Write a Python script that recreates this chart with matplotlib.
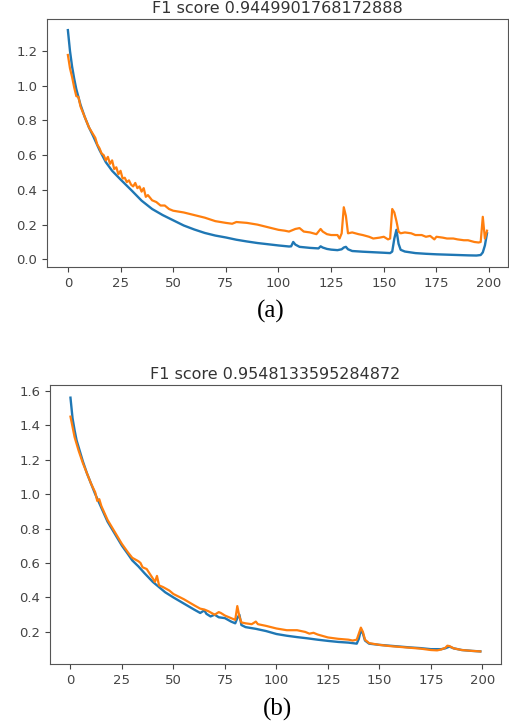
import matplotlib
matplotlib.use("Agg")
import matplotlib.pyplot as plt

# (a) 学習曲線 (epoch, loss)
ep_a_blue = [0, 1, 2, 3, 4, 6, 8, 10, 12, 15, 18, 21, 25, 30, 35, 40, 45, 50, 55, 60,
             65, 70, 75, 80, 85, 90, 95, 100, 105, 106, 107, 108, 110, 115, 119, 120,
             121, 123, 125, 128, 130, 131, 132, 133, 135, 140, 145, 150, 153, 154, 155,
             156, 157, 158, 160, 165, 170, 175, 180, 185, 190, 194, 196, 197, 198, 199]
loss_a_blue = [1.32, 1.20, 1.11, 1.04, 0.98, 0.89, 0.82, 0.76, 0.71, 0.63, 0.56, 0.51,
               0.46, 0.40, 0.338, 0.29, 0.255, 0.225, 0.195, 0.172, 0.152, 0.137, 0.126,
               0.113, 0.103, 0.094, 0.087, 0.080, 0.074, 0.075, 0.100, 0.085, 0.072,
               0.066, 0.063, 0.075, 0.068, 0.060, 0.056, 0.053, 0.058, 0.068, 0.072,
               0.058, 0.048, 0.044, 0.041, 0.038, 0.036, 0.045, 0.120, 0.170, 0.090,
               0.055, 0.045, 0.036, 0.032, 0.029, 0.027, 0.025, 0.023, 0.022, 0.025,
               0.040, 0.080, 0.150]

ep_a_orange = [0, 1, 2, 3, 4, 5, 6, 8, 10, 12, 13, 14, 15, 16, 17, 18, 19, 20, 21, 22,
               23, 24, 25, 26, 27, 28, 29, 30, 31, 32, 33, 34, 35, 36, 37, 38, 40, 42,
               44, 46, 48, 50, 55, 60, 65, 70, 75, 78, 80, 85, 90, 95, 100, 103, 105,
               108, 110, 112, 115, 118, 120, 121, 123, 125, 128, 129, 130, 131, 132,
               133, 135, 138, 140, 143, 145, 148, 150, 152, 153, 154, 155, 156, 157,
               158, 160, 163, 165, 168, 170, 172, 174, 175, 178, 180, 183, 185, 188,
               190, 193, 195, 196, 197, 198, 199]
loss_a_orange = [1.177, 1.10, 1.05, 0.99, 0.94, 0.935, 0.88, 0.82, 0.76, 0.72, 0.70,
                 0.66, 0.64, 0.61, 0.60, 0.57, 0.59, 0.55, 0.57, 0.52, 0.53, 0.49, 0.51,
                 0.465, 0.47, 0.445, 0.455, 0.43, 0.42, 0.44, 0.41, 0.42, 0.39, 0.41,
                 0.36, 0.37, 0.34, 0.33, 0.31, 0.31, 0.29, 0.28, 0.27, 0.255, 0.24, 0.22,
                 0.21, 0.205, 0.215, 0.21, 0.20, 0.185, 0.17, 0.165, 0.16, 0.175, 0.18,
                 0.16, 0.155, 0.145, 0.175, 0.16, 0.145, 0.14, 0.14, 0.12, 0.15, 0.30,
                 0.25, 0.15, 0.155, 0.145, 0.14, 0.13, 0.12, 0.125, 0.13, 0.115, 0.12,
                 0.29, 0.27, 0.22, 0.16, 0.15, 0.155, 0.15, 0.14, 0.14, 0.13, 0.135,
                 0.115, 0.13, 0.125, 0.12, 0.12, 0.115, 0.11, 0.11, 0.10, 0.097, 0.10,
                 0.245, 0.12, 0.165]

# (b) 学習曲線
ep_b_blue = [0, 1, 2, 3, 4, 6, 8, 10, 12, 15, 18, 21, 25, 28, 30, 33, 36, 40, 43, 46,
             50, 55, 60, 63, 65, 66, 68, 70, 72, 75, 78, 80, 81, 82, 83, 85, 90, 95,
             100, 105, 110, 115, 120, 125, 130, 135, 139, 140, 141, 142, 143, 145, 150,
             155, 160, 165, 170, 175, 180, 182, 184, 186, 190, 195, 199]
loss_b_blue = [1.559, 1.44, 1.37, 1.31, 1.27, 1.19, 1.12, 1.06, 1.00, 0.92, 0.84, 0.78,
               0.70, 0.65, 0.615, 0.58, 0.54, 0.49, 0.46, 0.43, 0.40, 0.365, 0.33, 0.31,
               0.325, 0.305, 0.29, 0.30, 0.285, 0.28, 0.26, 0.25, 0.28, 0.30, 0.24,
               0.228, 0.218, 0.205, 0.188, 0.178, 0.17, 0.163, 0.155, 0.148, 0.142,
               0.138, 0.132, 0.16, 0.21, 0.19, 0.15, 0.132, 0.125, 0.12, 0.115, 0.11,
               0.106, 0.10, 0.10, 0.105, 0.115, 0.105, 0.095, 0.09, 0.087]

ep_b_orange = [0, 1, 2, 3, 4, 6, 8, 10, 12, 13, 14, 15, 18, 21, 25, 28, 30, 33, 34, 35,
               37, 40, 41, 42, 43, 45, 48, 50, 55, 60, 63, 65, 67, 70, 72, 73, 75, 78,
               80, 81, 82, 83, 85, 88, 90, 91, 95, 100, 105, 110, 114, 116, 118, 120,
               125, 130, 135, 137, 139, 140, 141, 142, 143, 145, 150, 155, 160, 165,
               168, 170, 175, 178, 180, 182, 183, 184, 186, 190, 195, 199]
loss_b_orange = [1.449, 1.39, 1.33, 1.29, 1.25, 1.18, 1.12, 1.06, 1.01, 0.96, 0.97,
                 0.93, 0.85, 0.79, 0.71, 0.66, 0.63, 0.61, 0.60, 0.575, 0.565, 0.51,
                 0.49, 0.525, 0.47, 0.46, 0.44, 0.42, 0.39, 0.355, 0.335, 0.33, 0.32,
                 0.30, 0.315, 0.31, 0.295, 0.28, 0.27, 0.35, 0.29, 0.255, 0.25, 0.245,
                 0.26, 0.245, 0.235, 0.22, 0.21, 0.21, 0.20, 0.19, 0.195, 0.185, 0.168,
                 0.16, 0.155, 0.15, 0.155, 0.19, 0.225, 0.20, 0.155, 0.135, 0.125,
                 0.118, 0.113, 0.108, 0.105, 0.103, 0.095, 0.093, 0.098, 0.108, 0.12,
                 0.118, 0.105, 0.095, 0.09, 0.087]

titles = ["F1 score 0.9449901768172888", "F1 score 0.9548133595284872"]
captions = ["(a)", "(b)"]
xticks = [0, 25, 50, 75, 100, 125, 150, 175, 200]

fig = plt.figure(figsize=(5.1, 7.25), dpi=100)
ax_a = fig.add_axes([0.092, 0.632, 0.904, 0.342])
ax_b = fig.add_axes([0.098, 0.084, 0.884, 0.385])

panels = [
    (ax_a, ep_a_blue, loss_a_blue, ep_a_orange, loss_a_orange),
    (ax_b, ep_b_blue, loss_b_blue, ep_b_orange, loss_b_orange),
]

for i, (ax, xb, yb, xo, yo) in enumerate(panels):
    ax.plot(xb, yb, color="#1f77b4", lw=1.7)
    ax.plot(xo, yo, color="#ff7f0e", lw=1.6)
    ax.set_xticks(xticks)
    ax.set_title(titles[i], fontsize=11.5, color="#333333", pad=4)
    ax.tick_params(labelsize=9.5, colors="#444444", length=3.5)
    for sp in ax.spines.values():
        sp.set_color("#555555")

ax_a.set_yticks([0.0, 0.2, 0.4, 0.6, 0.8, 1.0, 1.2])
ax_b.set_yticks([0.2, 0.4, 0.6, 0.8, 1.0, 1.2, 1.4, 1.6])

fig.text(0.53, 0.571, captions[0], ha="center", va="center",
         fontsize=18, family="Liberation Serif")
fig.text(0.545, 0.021, captions[1], ha="center", va="center",
         fontsize=18, family="Liberation Serif")

fig.savefig("out.png", dpi=100)
